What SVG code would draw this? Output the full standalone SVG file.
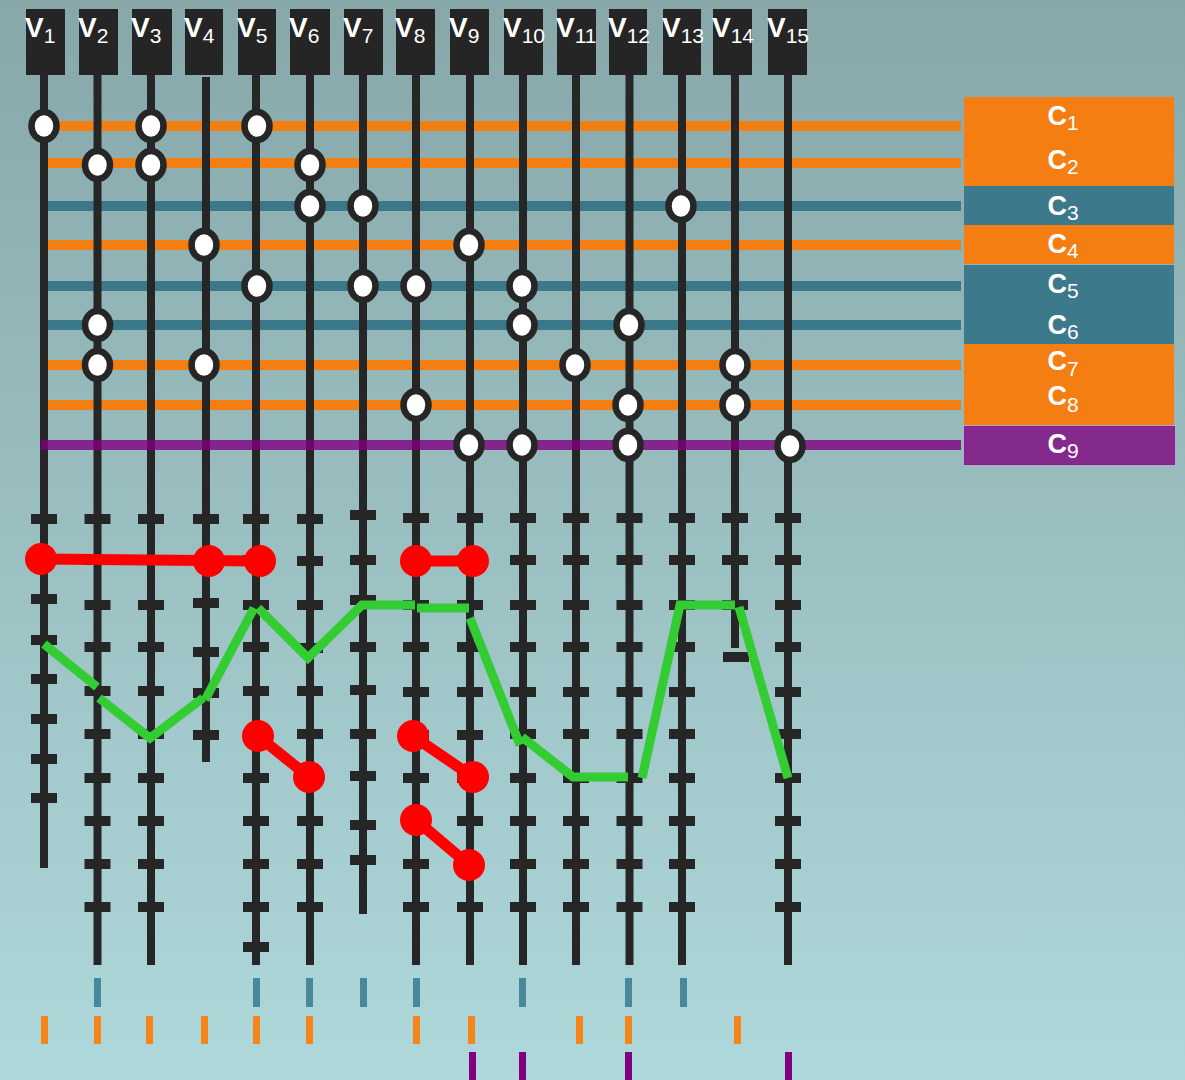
<svg xmlns="http://www.w3.org/2000/svg" width="1185" height="1080" viewBox="0 0 1185 1080">
<defs>
<linearGradient id="bg" x1="0" y1="0" x2="0" y2="1">
<stop offset="0" stop-color="#87a7a9"/>
<stop offset="1" stop-color="#aed8da"/>
</linearGradient>
</defs>
<style>
.hdr{fill:#252525}
.vl{fill:none;stroke:#262626;stroke-width:8}
.tk{fill:none;stroke:#262626;stroke-width:10}
.or{stroke:#f37f12;stroke-width:10}
.te{stroke:#3b788a;stroke-width:10}
.pu{stroke:#800080;stroke-width:10;stroke-opacity:0.8}
.nd{fill:#fff;stroke:#262626;stroke-width:6.5}
.vt{font-family:"Liberation Sans",Arial,sans-serif;font-weight:bold;font-size:28px;fill:#fff}
.sb{font-weight:normal;font-size:21px}
.ct{font-family:"Liberation Sans",Arial,sans-serif;font-weight:bold;font-size:27px;fill:#fff;text-anchor:middle}
.rd{fill:#ff0000}
.rl{stroke:#ff0000;stroke-width:11;fill:none}
.gr{fill:none;stroke:#33cc33;stroke-width:9;stroke-linecap:butt;stroke-linejoin:miter}
</style>
<rect width="1185" height="1080" fill="url(#bg)"/>

<g id="constraint-lines">
<line class="or" x1="47" y1="126" x2="961" y2="126"/>
<line class="or" x1="47" y1="163" x2="961" y2="163"/>
<line class="te" x1="47" y1="206" x2="961" y2="206"/>
<line class="or" x1="47" y1="245" x2="961" y2="245"/>
<line class="te" x1="47" y1="286" x2="961" y2="286"/>
<line class="te" x1="47" y1="325" x2="961" y2="325"/>
<line class="or" x1="47" y1="365" x2="961" y2="365"/>
<line class="or" x1="47" y1="405" x2="961" y2="405"/>
</g>

<g id="variables">
<g id="V1"><rect class="hdr" x="26" y="9" width="39" height="66"/><text class="vt" x="25" y="37">V<tspan class="sb" dy="6">1</tspan></text><line class="vl" x1="44" y1="75" x2="44" y2="868"/><path class="tk" d="M31,519h26M31,559h26M31,599h26M31,640h26M31,679h26M31,719h26M31,759h26M31,798h26"/></g>
<g id="V2"><rect class="hdr" x="79" y="9" width="39" height="66"/><text class="vt" x="78" y="37">V<tspan class="sb" dy="6">2</tspan></text><line class="vl" x1="97.5" y1="75" x2="97.5" y2="965"/><path class="tk" d="M84.5,519h26M84.5,560h26M84.5,605h26M84.5,647h26M84.5,691h26M84.5,734h26M84.5,778h26M84.5,821h26M84.5,864h26M84.5,907h26"/></g>
<g id="V3"><rect class="hdr" x="132" y="9" width="40" height="66"/><text class="vt" x="131" y="37">V<tspan class="sb" dy="6">3</tspan></text><line class="vl" x1="151" y1="75" x2="151" y2="965"/><path class="tk" d="M138,519h26M138,560h26M138,605h26M138,647h26M138,691h26M138,734h26M138,778h26M138,821h26M138,864h26M138,907h26"/></g>
<g id="V4"><rect class="hdr" x="185" y="9" width="38" height="66"/><text class="vt" x="184" y="37">V<tspan class="sb" dy="6">4</tspan></text><line class="vl" x1="206" y1="77" x2="206" y2="762"/><path class="tk" d="M193,519h26M193,560h26M193,603h26M193,652h26M193,693h26M193,735h26"/></g>
<g id="V5"><rect class="hdr" x="238" y="9" width="38" height="66"/><text class="vt" x="237" y="37">V<tspan class="sb" dy="6">5</tspan></text><line class="vl" x1="256" y1="75" x2="256" y2="965"/><path class="tk" d="M243,519h26M243,560h26M243,605h26M243,647h26M243,691h26M243,735h26M243,778h26M243,821h26M243,864h26M243,907h26M243,947h26"/></g>
<g id="V6"><rect class="hdr" x="290" y="9" width="40" height="66"/><text class="vt" x="289" y="37">V<tspan class="sb" dy="6">6</tspan></text><line class="vl" x1="310" y1="75" x2="310" y2="965"/><path class="tk" d="M297,519h26M297,561h26M297,605h26M297,648h26M297,691h26M297,734h26M297,778h26M297,821h26M297,864h26M297,907h26"/></g>
<g id="V7"><rect class="hdr" x="344" y="9" width="39" height="66"/><text class="vt" x="343" y="37">V<tspan class="sb" dy="6">7</tspan></text><line class="vl" x1="363" y1="75" x2="363" y2="914"/><path class="tk" d="M350,515h26M350,560h26M350,600h26M350,647h26M350,690h26M350,734h26M350,776h26M350,825h26M350,860h26"/></g>
<g id="V8"><rect class="hdr" x="396" y="9" width="39" height="66"/><text class="vt" x="395" y="37">V<tspan class="sb" dy="6">8</tspan></text><line class="vl" x1="416" y1="75" x2="416" y2="965"/><path class="tk" d="M403,518h26M403,560h26M403,605h26M403,647h26M403,692h26M403,735h26M403,778h26M403,821h26M403,864h26M403,907h26"/></g>
<g id="V9"><rect class="hdr" x="450" y="9" width="39" height="66"/><text class="vt" x="449" y="37">V<tspan class="sb" dy="6">9</tspan></text><line class="vl" x1="470" y1="75" x2="470" y2="965"/><path class="tk" d="M457,518h26M457,560h26M457,605h26M457,647h26M457,692h26M457,735h26M457,778h26M457,821h26M457,864h26M457,907h26"/></g>
<g id="V10"><rect class="hdr" x="504" y="9" width="39" height="66"/><text class="vt" x="503" y="37">V<tspan class="sb" dy="6">10</tspan></text><line class="vl" x1="523" y1="75" x2="523" y2="965"/><path class="tk" d="M510,518h26M510,560h26M510,605h26M510,647h26M510,692h26M510,734h26M510,778h26M510,821h26M510,864h26M510,907h26"/></g>
<g id="V11"><rect class="hdr" x="557" y="9" width="39" height="66"/><text class="vt" x="556" y="37">V<tspan class="sb" dy="6">11</tspan></text><line class="vl" x1="576" y1="75" x2="576" y2="965"/><path class="tk" d="M563,518h26M563,560h26M563,605h26M563,647h26M563,692h26M563,734h26M563,778h26M563,821h26M563,864h26M563,907h26"/></g>
<g id="V12"><rect class="hdr" x="609" y="9" width="38" height="66"/><text class="vt" x="608" y="37">V<tspan class="sb" dy="6">12</tspan></text><line class="vl" x1="629.5" y1="75" x2="629.5" y2="965"/><path class="tk" d="M616.5,518h26M616.5,560h26M616.5,605h26M616.5,647h26M616.5,692h26M616.5,734h26M616.5,778h26M616.5,821h26M616.5,864h26M616.5,907h26"/></g>
<g id="V13"><rect class="hdr" x="663" y="9" width="38" height="66"/><text class="vt" x="662" y="37">V<tspan class="sb" dy="6">13</tspan></text><line class="vl" x1="682" y1="75" x2="682" y2="965"/><path class="tk" d="M669,518h26M669,560h26M669,605h26M669,647h26M669,692h26M669,734h26M669,778h26M669,821h26M669,864h26M669,907h26"/></g>
<g id="V14"><rect class="hdr" x="713" y="9" width="39" height="66"/><text class="vt" x="712" y="37">V<tspan class="sb" dy="6">14</tspan></text><line class="vl" x1="735" y1="75" x2="735" y2="648"/><path class="tk" d="M722,518h26M722,560h26M722,605h26M723,657h26"/></g>
<g id="V15"><rect class="hdr" x="768" y="9" width="39" height="66"/><text class="vt" x="767" y="37">V<tspan class="sb" dy="6">15</tspan></text><line class="vl" x1="788" y1="75" x2="788" y2="965"/><path class="tk" d="M775,518h26M775,560h26M775,605h26M775,647h26M775,692h26M775,734h26M775,778h26M775,821h26M775,864h26M775,907h26"/></g>
</g>

<g id="constraint-line-c9">
<line class="pu" x1="41" y1="445" x2="961" y2="445"/>
</g>

<g id="incidence-nodes">
<ellipse class="nd" cx="44" cy="126" rx="12.5" ry="14"/>
<ellipse class="nd" cx="151" cy="126" rx="12.5" ry="14"/>
<ellipse class="nd" cx="257" cy="126" rx="12.5" ry="14"/>
<ellipse class="nd" cx="97.5" cy="165" rx="12.5" ry="14"/>
<ellipse class="nd" cx="151" cy="165" rx="12.5" ry="14"/>
<ellipse class="nd" cx="310" cy="165" rx="12.5" ry="14"/>
<ellipse class="nd" cx="310" cy="206" rx="12.5" ry="14"/>
<ellipse class="nd" cx="363" cy="206" rx="12.5" ry="14"/>
<ellipse class="nd" cx="681" cy="206" rx="12.5" ry="14"/>
<ellipse class="nd" cx="204" cy="245" rx="12.5" ry="14"/>
<ellipse class="nd" cx="469" cy="245" rx="12.5" ry="14"/>
<ellipse class="nd" cx="257" cy="286" rx="12.5" ry="14"/>
<ellipse class="nd" cx="363" cy="286" rx="12.5" ry="14"/>
<ellipse class="nd" cx="416" cy="286" rx="12.5" ry="14"/>
<ellipse class="nd" cx="522" cy="286" rx="12.5" ry="14"/>
<ellipse class="nd" cx="97.5" cy="325" rx="12.5" ry="14"/>
<ellipse class="nd" cx="522" cy="325" rx="12.5" ry="14"/>
<ellipse class="nd" cx="629" cy="325" rx="12.5" ry="14"/>
<ellipse class="nd" cx="97.5" cy="365" rx="12.5" ry="14"/>
<ellipse class="nd" cx="204" cy="365" rx="12.5" ry="14"/>
<ellipse class="nd" cx="575" cy="365" rx="12.5" ry="14"/>
<ellipse class="nd" cx="735" cy="365" rx="12.5" ry="14"/>
<ellipse class="nd" cx="416" cy="405" rx="12.5" ry="14"/>
<ellipse class="nd" cx="628" cy="405" rx="12.5" ry="14"/>
<ellipse class="nd" cx="735" cy="405" rx="12.5" ry="14"/>
<ellipse class="nd" cx="469" cy="445" rx="12.5" ry="14"/>
<ellipse class="nd" cx="522" cy="445" rx="12.5" ry="14"/>
<ellipse class="nd" cx="628" cy="445" rx="12.5" ry="14"/>
<ellipse class="nd" cx="790" cy="446" rx="12.5" ry="14"/>
</g>

<g id="constraints-legend">
<g id="C1"><rect x="964" y="97" width="210" height="45" fill="#f47e12"/><text class="ct" x="1063" y="125">C<tspan class="sb" dy="5">1</tspan></text></g>
<g id="C2"><rect x="964" y="142" width="210" height="44" fill="#f47e12"/><text class="ct" x="1063" y="169">C<tspan class="sb" dy="5">2</tspan></text></g>
<g id="C3"><rect x="964" y="186" width="210" height="39" fill="#3c798b"/><text class="ct" x="1063" y="215">C<tspan class="sb" dy="5">3</tspan></text></g>
<g id="C4"><rect x="964" y="225" width="210" height="39" fill="#f47e12"/><text class="ct" x="1063" y="253">C<tspan class="sb" dy="5">4</tspan></text></g>
<g id="C5"><rect x="964" y="265" width="210" height="40" fill="#3c798b"/><text class="ct" x="1063" y="293">C<tspan class="sb" dy="5">5</tspan></text></g>
<g id="C6"><rect x="964" y="305" width="210" height="39" fill="#3c798b"/><text class="ct" x="1063" y="334">C<tspan class="sb" dy="5">6</tspan></text></g>
<g id="C7"><rect x="964" y="344" width="210" height="39" fill="#f47e12"/><text class="ct" x="1063" y="370">C<tspan class="sb" dy="6">7</tspan></text></g>
<g id="C8"><rect x="964" y="383" width="210" height="42" fill="#f47e12"/><text class="ct" x="1063" y="405">C<tspan class="sb" dy="7">8</tspan></text></g>
<g id="C9"><rect x="964.5" y="426.5" width="210" height="38" fill="#842a8c" stroke="#a010a0" stroke-width="1"/><text class="ct" x="1063" y="453">C<tspan class="sb" dy="5">9</tspan></text></g>
</g>

<g id="connectors">
<g id="red-links">
<line class="rl" x1="41" y1="559" x2="260" y2="561"/>
<line class="rl" x1="416" y1="561" x2="473" y2="561"/>
<line class="rl" x1="258" y1="736" x2="309" y2="777"/>
<line class="rl" x1="413" y1="736" x2="473" y2="777"/>
<line class="rl" x1="416" y1="820" x2="469" y2="865"/>
</g>
<g id="red-dots">
<circle class="rd" cx="41" cy="559" r="16"/>
<circle class="rd" cx="209" cy="561" r="16"/>
<circle class="rd" cx="260" cy="561" r="16"/>
<circle class="rd" cx="416" cy="561" r="16"/>
<circle class="rd" cx="473" cy="561" r="16"/>
<circle class="rd" cx="258" cy="736" r="16"/>
<circle class="rd" cx="309" cy="777" r="16"/>
<circle class="rd" cx="413" cy="736" r="16"/>
<circle class="rd" cx="473" cy="777" r="16"/>
<circle class="rd" cx="416" cy="820" r="16"/>
<circle class="rd" cx="469" cy="865" r="16"/>
</g>
<g id="green-path">
<polyline class="gr" points="44,644 97,687"/>
<polyline class="gr" points="99,698 150,738 203,698"/>
<polyline class="gr" points="205,700 254,608"/>
<polyline class="gr" points="258,608 308,658 362,605 415,605"/>
<polyline class="gr" points="417,608 469,608"/>
<polyline class="gr" points="470,618 520,745"/>
<polyline class="gr" points="522,737 573,777 628,777"/>
<polyline class="gr" points="642,778 680,605 735,605"/>
<polyline class="gr" points="739,607 788,778"/>
</g>
</g>

<g id="bottom-markers">
<g fill="#47899c">
<rect x="94" y="978" width="7" height="29"/>
<rect x="253" y="978" width="7" height="29"/>
<rect x="306" y="978" width="7" height="29"/>
<rect x="360" y="978" width="7" height="29"/>
<rect x="413" y="978" width="7" height="29"/>
<rect x="519" y="978" width="7" height="29"/>
<rect x="625" y="978" width="7" height="29"/>
<rect x="680" y="978" width="7" height="29"/>
</g>
<g fill="#f5851a">
<rect x="41" y="1016" width="7" height="28"/>
<rect x="94" y="1016" width="7" height="28"/>
<rect x="146" y="1016" width="7" height="28"/>
<rect x="201" y="1016" width="7" height="28"/>
<rect x="253" y="1016" width="7" height="28"/>
<rect x="306" y="1016" width="7" height="28"/>
<rect x="413" y="1016" width="7" height="28"/>
<rect x="468" y="1016" width="7" height="28"/>
<rect x="576" y="1016" width="7" height="28"/>
<rect x="625" y="1016" width="7" height="28"/>
<rect x="734" y="1016" width="7" height="28"/>
</g>
<g fill="#800080">
<rect x="469" y="1052" width="7" height="28"/>
<rect x="519" y="1052" width="7" height="28"/>
<rect x="625" y="1052" width="7" height="28"/>
<rect x="785" y="1052" width="7" height="28"/>
</g>
</g>
</svg>
